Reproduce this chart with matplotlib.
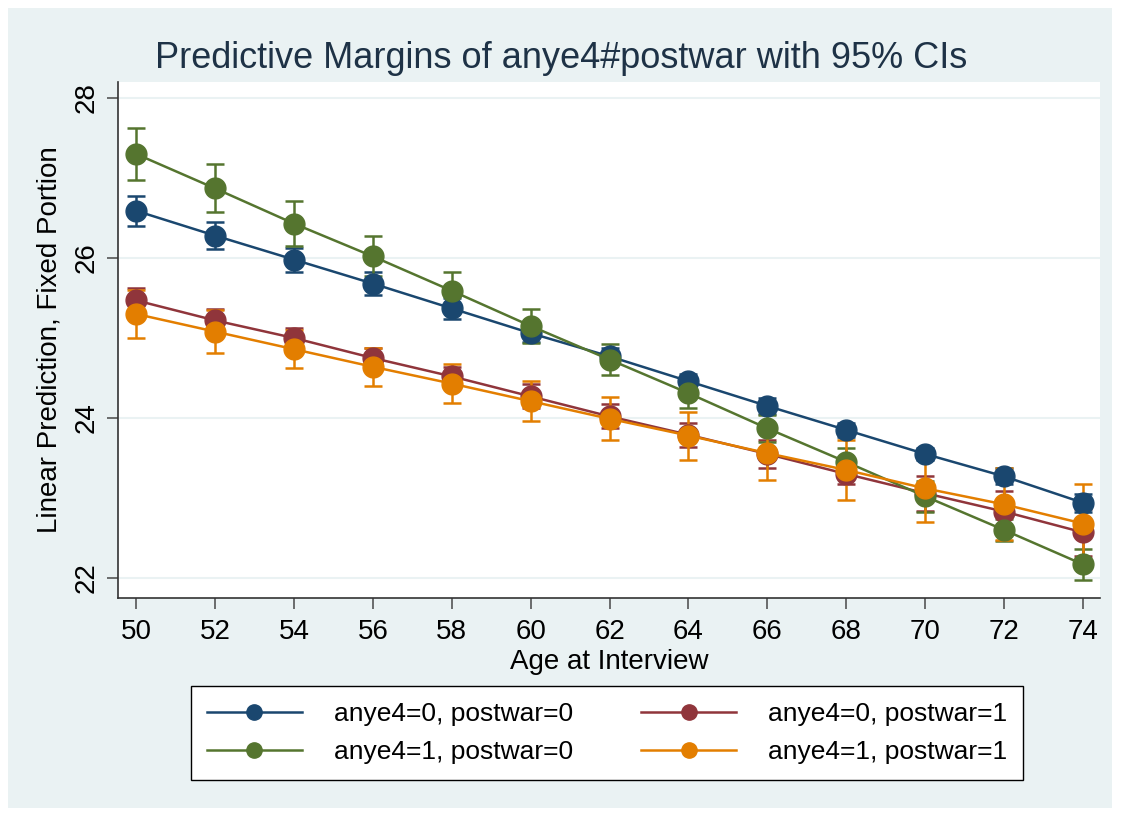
import numpy as np
import matplotlib.pyplot as plt
from matplotlib.patches import Rectangle
from matplotlib.lines import Line2D

age = [50, 52, 54, 56, 58, 60, 62, 64, 66, 68, 70, 72, 74]

# predicted margins and 95% CI half-widths
m00 = [26.59, 26.28, 25.98, 25.68, 25.37, 25.06, 24.77, 24.46, 24.15, 23.85, 23.55, 23.27, 22.94]
h00 = [0.19, 0.17, 0.15, 0.14, 0.13, 0.11, 0.10, 0.09, 0.10, 0.09, 0.08, 0.10, 0.11]
m01 = [25.47, 25.22, 25.00, 24.75, 24.52, 24.27, 24.02, 23.79, 23.55, 23.30, 23.06, 22.83, 22.57]
h01 = [0.16, 0.14, 0.12, 0.12, 0.12, 0.15, 0.15, 0.15, 0.17, 0.12, 0.22, 0.26, 0.29]
m10 = [27.30, 26.87, 26.43, 26.02, 25.59, 25.15, 24.73, 24.31, 23.87, 23.45, 23.02, 22.60, 22.17]
h10 = [0.33, 0.30, 0.28, 0.25, 0.23, 0.21, 0.19, 0.19, 0.17, 0.17, 0.19, 0.14, 0.19]
m11 = [25.30, 25.08, 24.86, 24.64, 24.43, 24.21, 23.99, 23.78, 23.56, 23.35, 23.12, 22.92, 22.68]
h11 = [0.30, 0.27, 0.24, 0.24, 0.24, 0.25, 0.27, 0.30, 0.33, 0.37, 0.42, 0.45, 0.50]

labels = ['anye4=0, postwar=0', 'anye4=0, postwar=1',
          'anye4=1, postwar=0', 'anye4=1, postwar=1']
colors = ['#1A476F', '#90353B', '#55752F', '#E37E00']

plt.rcParams['font.family'] = ['Liberation Sans', 'DejaVu Sans']

fig = plt.figure(figsize=(11.22, 8.18), dpi=100)
fig.patch.set_facecolor('white')
fig.patches.append(Rectangle((8/1122, 1-808/818), 1104/1122, 800/818,
                             transform=fig.transFigure, facecolor='#EAF2F3',
                             edgecolor='none', zorder=-10))

ax = fig.add_axes([118/1122, 1-598/818, 982/1122, 516/818])
ax.set_facecolor('white')

series = [(m00, h00), (m01, h01), (m10, h10), (m11, h11)]
for (m, h), c, lab in zip(series, colors, labels):
    ax.errorbar(age, m, yerr=h, color=c, lw=1.8, marker='o', ms=15,
                capsize=6.5, capthick=1.8, elinewidth=1.8, label=lab)

ax.set_xlim(49.54, 74.43)
ax.set_ylim(21.75, 28.2)
ax.set_xticks(age)
ax.set_yticks([22, 24, 26, 28])
ax.grid(axis='y', color='#EAF2F3', lw=1.5)
ax.set_axisbelow(True)
for s in ['top', 'right']:
    ax.spines[s].set_visible(False)
for s in ['left', 'bottom']:
    ax.spines[s].set_color('#333333')
    ax.spines[s].set_linewidth(1.2)
ax.tick_params(axis='both', direction='out', length=8, width=1.2,
               color='#555555', labelsize=20)
ax.tick_params(axis='x', pad=7)
ax.tick_params(axis='y', labelrotation=90, pad=5)
for t in ax.get_yticklabels():
    t.set_va('center')

ax.set_xlabel('Age at Interview', fontsize=20, labelpad=3)
ax.set_ylabel('Linear Prediction, Fixed Portion', fontsize=20, labelpad=8)
fig.text(0.5, 1-58/818, 'Predictive Margins of anye4#postwar with 95% CIs',
         ha='center', va='center', fontsize=26, color='#1E3246')

handles = [Line2D([], [], color=c, lw=1.8, marker='o', ms=11) for c in colors]
order = [0, 2, 1, 3]
leg = fig.legend([handles[i] for i in order], [labels[i] for i in order],
                 ncol=2, loc='center', bbox_to_anchor=(607/1122, 1-733/818),
                 fontsize=19, frameon=True, fancybox=False, edgecolor='black',
                 facecolor='white', framealpha=1,
                 handlelength=3.6, handletextpad=1.2, columnspacing=2.6,
                 labelspacing=0.55, borderpad=0.6)
leg.get_frame().set_linewidth(1.0)

fig.savefig('out.png', dpi=100)
